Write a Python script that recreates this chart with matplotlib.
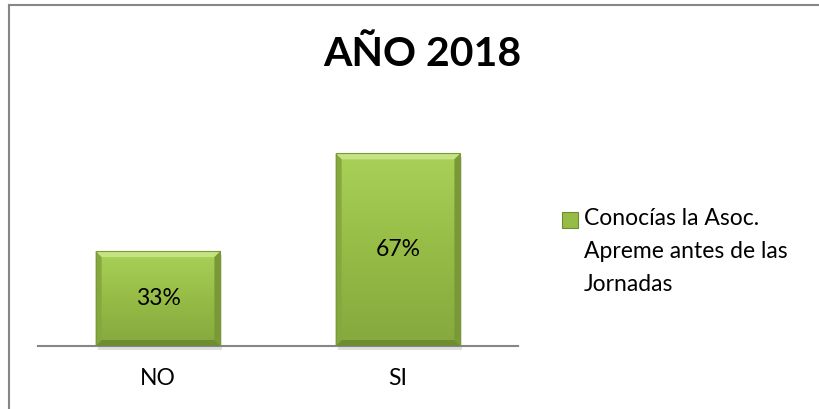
import numpy as np
import matplotlib
matplotlib.use("Agg")
from matplotlib import pyplot
from matplotlib.patches import Rectangle, Polygon
from matplotlib.lines import Line2D
from matplotlib.colors import LinearSegmentedColormap

categories = ["NO", "SI"]
values = [0.33, 0.67]
valueLabels = ["33%", "67%"]
titleText = "AÑO 2018"
seriesName = "Conocías la Asoc.\nApreme antes de las\nJornadas"

pyplot.rcParams["font.family"] = ["Lato", "DejaVu Sans"]

fig = pyplot.figure(figsize=(8.2, 4.09), dpi=100)
W, H = 820, 409

# chart frame (only the left and top edges are visible in the reference)
fig.lines.append(Line2D([9 / W, 9 / W], [0, 1 - 5 / H], transform=fig.transFigure,
                        color="#868686", linewidth=1.5))
fig.lines.append(Line2D([9 / W, 1], [1 - 5 / H, 1 - 5 / H], transform=fig.transFigure,
                        color="#868686", linewidth=1.5))

ax = fig.add_axes([38 / W, (H - 346) / H, 480 / W, 230 / H])
for side in ["left", "right", "top"]:
    ax.spines[side].set_visible(False)
ax.spines["bottom"].set_color("#868686")
ax.spines["bottom"].set_linewidth(1.5)
ax.set_yticks([])
x = np.arange(len(categories))
ax.set_xticks(x)
ax.set_xticklabels(categories, fontsize=16.5)
ax.tick_params(axis="x", length=0, pad=16)

barWidth = 0.52
bars = ax.bar(x, values, width=barWidth, color="none", edgecolor="none", zorder=2)

cmap = LinearSegmentedColormap.from_list("greenbar", ["#86A83E", "#96BC46", "#A9D158"])
grad = np.linspace(0, 1, 256).reshape(-1, 1)
dxPix = 1 / 240
dyPix = 0.8 / 230
bev = 6

for rect, lab in zip(bars, valueLabels):
    x0, y0 = rect.get_x(), rect.get_y()
    w, h = rect.get_width(), rect.get_height()
    # soft shadow
    ax.add_patch(Rectangle((x0 + 2 * dxPix, y0 - 4 * dyPix), w, h, facecolor="#000000",
                           alpha=0.12, edgecolor="none", zorder=1, clip_on=False))
    im = ax.imshow(grad, extent=(x0, x0 + w, y0, y0 + h), origin="lower", cmap=cmap,
                   aspect="auto", zorder=2)
    im.set_clip_path(Rectangle((x0, y0), w, h, transform=ax.transData))
    bx, by = bev * dxPix, bev * dyPix
    # bevel edges
    ax.add_patch(Polygon([(x0, y0 + h), (x0 + w, y0 + h), (x0 + w - bx, y0 + h - by), (x0 + bx, y0 + h - by)],
                         closed=True, facecolor="#C6E383", edgecolor="none", zorder=3))
    ax.add_patch(Polygon([(x0, y0), (x0 + w, y0), (x0 + w - bx, y0 + by), (x0 + bx, y0 + by)],
                         closed=True, facecolor="#6E8C31", edgecolor="none", zorder=3))
    ax.add_patch(Polygon([(x0, y0), (x0, y0 + h), (x0 + bx, y0 + h - by), (x0 + bx, y0 + by)],
                         closed=True, facecolor="#86A83E", edgecolor="none", zorder=3))
    ax.add_patch(Polygon([(x0 + w, y0), (x0 + w, y0 + h), (x0 + w - bx, y0 + h - by), (x0 + w - bx, y0 + by)],
                         closed=True, facecolor="#789935", edgecolor="none", zorder=3))
    ax.add_patch(Rectangle((x0, y0), w, h, fill=False, edgecolor="#7A9A38", linewidth=0.8, zorder=4))
    ax.text(x0 + w / 2, y0 + h / 2, lab, ha="center", va="center", fontsize=16.5, color="#000000", zorder=5)

ax.set_xlim(-0.5, 1.5)
ax.set_ylim(0, 0.8)

fig.text(422 / W, 1 - 54 / H, titleText, ha="center", va="center", fontsize=29.5, fontweight="bold")

# legend entry
legendBox = Rectangle((562 / W, 1 - 228 / H), 16 / W, 16 / H, transform=fig.transFigure,
                      facecolor="#96BC46", edgecolor="#6E8C31", linewidth=0.8)
fig.patches.append(legendBox)
fig.text(584 / W, 1 - 208 / H, seriesName, ha="left", va="top", fontsize=16.5,
         linespacing=1.72, multialignment="left")

fig.savefig("out.png", dpi=100)
